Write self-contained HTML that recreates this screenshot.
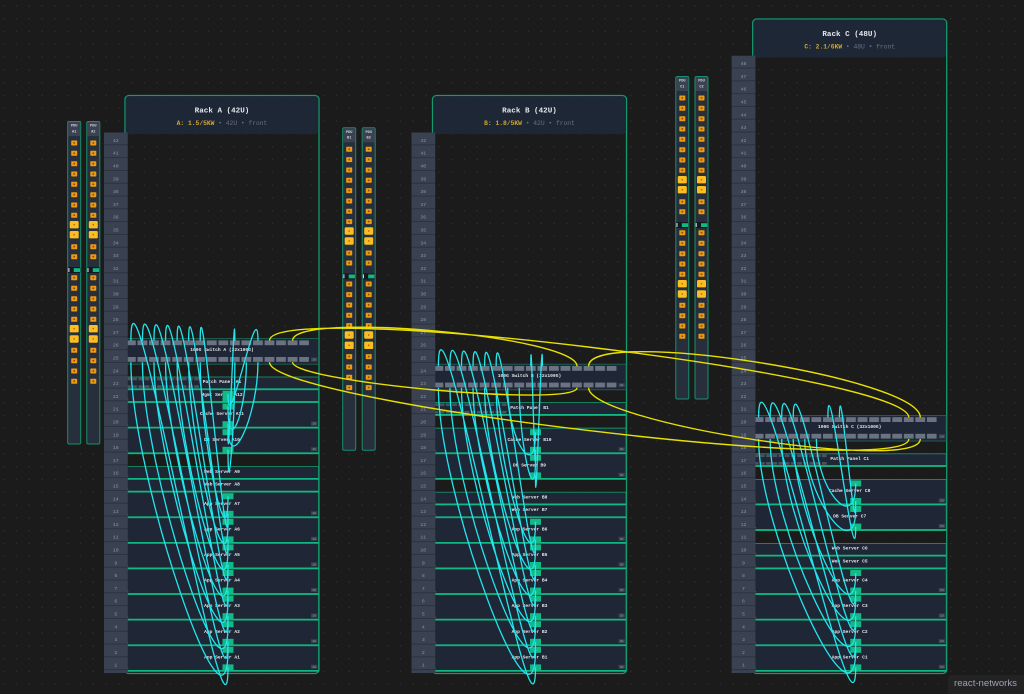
<!DOCTYPE html>
<html><head><meta charset="utf-8"><style>
html,body{margin:0;padding:0;background:#1b1b1b;overflow:hidden;}
svg{display:block;}
</style></head><body>
<svg width="1024" height="694" viewBox="0 0 1024 694" xmlns="http://www.w3.org/2000/svg" style="font-family:'Liberation Mono',monospace">
<defs>
<pattern id="dots" x="2.9" y="5.2" width="12.8" height="12.8" patternUnits="userSpaceOnUse"><rect width="1.3" height="1.3" fill="#303030"/></pattern>
<pattern id="ucell" x="104" y="132.5" width="24" height="12.8" patternUnits="userSpaceOnUse"><rect width="24" height="11.9" fill="#3a4252"/></pattern>
<pattern id="sp" x="126" y="0" width="11.55" height="700" patternUnits="userSpaceOnUse"><rect width="9.8" height="700" fill="#6b7383"/></pattern>
<pattern id="pp" x="126" y="0" width="6.2" height="700" patternUnits="userSpaceOnUse"><rect width="4.8" height="700" fill="#4a5262"/></pattern>
<g id="os"><rect x="4" y="-2.5" width="6" height="5" rx="0.7" fill="#eb9a12"/><rect x="6.2" y="-0.8" width="1.6" height="1.5" fill="#7c4a05"/></g>
<g id="ob"><rect x="2.5" y="-3.7" width="9" height="7.4" rx="1.3" fill="#fbbd22"/><rect x="6.3" y="-0.7" width="1.4" height="1.4" fill="#a86f00"/></g>
<g id="pdu">
<rect x="0.5" y="0.5" width="13" height="322.5" rx="1.5" fill="#272f3c" stroke="#15906a" stroke-width="1"/>
<rect x="1" y="1" width="12" height="14" fill="#3b4353"/>
<use href="#os" y="22"/><use href="#os" y="32.3"/><use href="#os" y="42.7"/><use href="#os" y="53"/><use href="#os" y="63.3"/><use href="#os" y="73.7"/><use href="#os" y="84"/><use href="#os" y="94.3"/>
<use href="#ob" y="103.7"/><use href="#ob" y="113.7"/>
<use href="#os" y="125.7"/><use href="#os" y="135.7"/>
<rect x="1" y="146" width="12" height="6" fill="#15191f"/><rect x="1.2" y="147" width="1" height="4" fill="#e5e7eb"/><rect x="6.5" y="147.2" width="6.3" height="3.8" fill="#10b981"/>
<use href="#os" y="156.7"/><use href="#os" y="167.3"/><use href="#os" y="177.7"/><use href="#os" y="188"/><use href="#os" y="198.3"/>
<use href="#ob" y="207.7"/><use href="#ob" y="218"/>
<use href="#os" y="229.3"/><use href="#os" y="239.7"/><use href="#os" y="250"/><use href="#os" y="260.3"/>
</g>
</defs>

<rect width="1024" height="694" fill="#1b1b1b"/>
<rect width="1024" height="694" fill="url(#dots)"/>

<!-- PDUs -->
<use href="#pdu" x="67.2" y="121"/><use href="#pdu" x="86.3" y="121"/>
<use href="#pdu" x="342.2" y="127.3"/><use href="#pdu" x="361.7" y="127.3"/>
<use href="#pdu" x="675.3" y="76"/><use href="#pdu" x="694.5" y="76"/>
<g font-size="3.6" fill="#d1d5db" text-anchor="middle" font-weight="bold">
<text x="74.2" y="126.6">PDU</text><text x="74.2" y="132.4">A1</text>
<text x="93.3" y="126.6">PDU</text><text x="93.3" y="132.4">A2</text>
<text x="349.2" y="132.9">PDU</text><text x="349.2" y="138.7">B1</text>
<text x="368.7" y="132.9">PDU</text><text x="368.7" y="138.7">B2</text>
<text x="682.3" y="81.6">PDU</text><text x="682.3" y="87.4">C1</text>
<text x="701.5" y="81.6">PDU</text><text x="701.5" y="87.4">C2</text>
</g>

<!-- ================= RACK A ================= -->
<g>
<rect x="125" y="95.5" width="194" height="578" rx="4" fill="none" stroke="#139a6c" stroke-width="1.3"/>
<rect x="125.7" y="96.2" width="192.6" height="37.8" rx="3" fill="#1e2736"/>
<text x="222" y="112.7" font-size="7.6" font-weight="bold" fill="#e5e7eb" text-anchor="middle">Rack A (42U)</text>
<text x="222" y="125.2" font-size="6.3" text-anchor="middle"><tspan fill="#d4a72c" font-weight="bold">A: 1.5/5KW</tspan><tspan fill="#6b7280"> • 42U • front</tspan></text>

<rect x="125.5" y="338.6" width="193" height="25.6" fill="#1f2737" stroke="#1e6a55" stroke-width="0.8"/>
<rect x="126" y="340.4" width="183" height="4.8" fill="url(#sp)"/>
<rect x="126" y="357" width="183" height="4.8" fill="url(#sp)"/>
<rect x="125.5" y="377" width="193" height="12.8" fill="#1f2737" stroke="#139a6c" stroke-width="0.8"/>
<rect x="126" y="377.7" width="74" height="2.6" fill="url(#pp)"/>
<rect x="126" y="385.3" width="74" height="2.6" fill="url(#pp)"/>
<g fill="#1f2737" stroke="#139a6c" stroke-width="0.8">
<rect x="125.5" y="389.8" width="193" height="12.8"/>
<rect x="125.5" y="402.6" width="193" height="25.6"/>
<rect x="125.5" y="428.2" width="193" height="25.6"/>
<rect x="125.5" y="466.6" width="193" height="12.8"/>
<rect x="125.5" y="479.4" width="193" height="12.8"/>
<rect x="125.5" y="492.2" width="193" height="25.6"/>
<rect x="125.5" y="517.8" width="193" height="25.6"/>
<rect x="125.5" y="543.4" width="193" height="25.6"/>
<rect x="125.5" y="569" width="193" height="25.6"/>
<rect x="125.5" y="594.6" width="193" height="25.6"/>
<rect x="125.5" y="620.2" width="193" height="25.6"/>
<rect x="125.5" y="645.8" width="193" height="25.6"/>
</g>
<path d="M125.5,389.1H318.5M125.5,401.9H318.5M125.5,427.5H318.5M125.5,453.1H318.5M125.5,478.7H318.5M125.5,491.5H318.5M125.5,517.1H318.5M125.5,542.7H318.5M125.5,568.3H318.5M125.5,593.9H318.5M125.5,619.5H318.5M125.5,645.1H318.5M125.5,670.7H318.5" stroke="#10b981" stroke-width="1.5" fill="none"/>
<g fill="#10b981">
<circle cx="127.4" cy="399.6" r="0.8"/><circle cx="127.4" cy="425.2" r="0.8"/><circle cx="127.4" cy="450.8" r="0.8"/><circle cx="127.4" cy="476.4" r="0.8"/><circle cx="127.4" cy="489.2" r="0.8"/><circle cx="127.4" cy="514.8" r="0.8"/><circle cx="127.4" cy="540.4" r="0.8"/><circle cx="127.4" cy="566" r="0.8"/><circle cx="127.4" cy="591.6" r="0.8"/><circle cx="127.4" cy="617.2" r="0.8"/><circle cx="127.4" cy="642.8" r="0.8"/><circle cx="127.4" cy="668.4" r="0.8"/>
</g>
<g fill="#3b4352">
<rect x="311" y="357.6" width="6.3" height="3.9"/><rect x="311" y="421.6" width="6.3" height="3.9"/><rect x="311" y="447.2" width="6.3" height="3.9"/><rect x="311" y="511.2" width="6.3" height="3.9"/><rect x="311" y="536.8" width="6.3" height="3.9"/><rect x="311" y="562.4" width="6.3" height="3.9"/><rect x="311" y="588" width="6.3" height="3.9"/><rect x="311" y="613.6" width="6.3" height="3.9"/><rect x="311" y="639.2" width="6.3" height="3.9"/><rect x="311" y="664.8" width="6.3" height="3.9"/>
</g>
<g font-size="2.8" fill="#9aa3b1" text-anchor="middle">
<text x="314.15" y="360.6">2U</text><text x="314.15" y="424.6">2U</text><text x="314.15" y="450.2">2U</text><text x="314.15" y="514.2">2U</text><text x="314.15" y="539.8">2U</text><text x="314.15" y="565.4">2U</text><text x="314.15" y="591">2U</text><text x="314.15" y="616.6">2U</text><text x="314.15" y="642.2">2U</text><text x="314.15" y="667.8">2U</text>
</g>
<g font-size="4.6" font-weight="bold" fill="#e5e7eb" text-anchor="middle">
<text x="222" y="351.2">100G Switch A (32x100G)</text>
<text x="222" y="383.2">Patch Panel A1</text>
<text x="222" y="396">Mgmt Server A12</text>
<text x="222" y="415.2">Cache Server A11</text>
<text x="222" y="440.8">DB Server A10</text>
<text x="222" y="472.8">Web Server A9</text>
<text x="222" y="485.6">Web Server A8</text>
<text x="222" y="504.8">App Server A7</text>
<text x="222" y="530.4">App Server A6</text>
<text x="222" y="556">App Server A5</text>
<text x="222" y="581.6">App Server A4</text>
<text x="222" y="607.2">App Server A3</text>
<text x="222" y="632.8">App Server A2</text>
<text x="222" y="658.4">App Server A1</text>
</g>
<rect x="104" y="132.5" width="23.7" height="540.5" fill="#2a303b"/>
<rect x="104" y="132.5" width="23.7" height="540.5" fill="url(#ucell)"/>
<text x="115.8" y="141.9" font-size="4.8" fill="#8e97a6" text-anchor="middle"><tspan x="115.8">42</tspan><tspan x="115.8" dy="12.8">41</tspan><tspan x="115.8" dy="12.8">40</tspan><tspan x="115.8" dy="12.8">39</tspan><tspan x="115.8" dy="12.8">38</tspan><tspan x="115.8" dy="12.8">37</tspan><tspan x="115.8" dy="12.8">36</tspan><tspan x="115.8" dy="12.8">35</tspan><tspan x="115.8" dy="12.8">34</tspan><tspan x="115.8" dy="12.8">33</tspan><tspan x="115.8" dy="12.8">32</tspan><tspan x="115.8" dy="12.8">31</tspan><tspan x="115.8" dy="12.8">30</tspan><tspan x="115.8" dy="12.8">29</tspan><tspan x="115.8" dy="12.8">28</tspan><tspan x="115.8" dy="12.8">27</tspan><tspan x="115.8" dy="12.8">26</tspan><tspan x="115.8" dy="12.8">25</tspan><tspan x="115.8" dy="12.8">24</tspan><tspan x="115.8" dy="12.8">23</tspan><tspan x="115.8" dy="12.8">22</tspan><tspan x="115.8" dy="12.8">21</tspan><tspan x="115.8" dy="12.8">20</tspan><tspan x="115.8" dy="12.8">19</tspan><tspan x="115.8" dy="12.8">18</tspan><tspan x="115.8" dy="12.8">17</tspan><tspan x="115.8" dy="12.8">16</tspan><tspan x="115.8" dy="12.8">15</tspan><tspan x="115.8" dy="12.8">14</tspan><tspan x="115.8" dy="12.8">13</tspan><tspan x="115.8" dy="12.8">12</tspan><tspan x="115.8" dy="12.8">11</tspan><tspan x="115.8" dy="12.8">10</tspan><tspan x="115.8" dy="12.8">9</tspan><tspan x="115.8" dy="12.8">8</tspan><tspan x="115.8" dy="12.8">7</tspan><tspan x="115.8" dy="12.8">6</tspan><tspan x="115.8" dy="12.8">5</tspan><tspan x="115.8" dy="12.8">4</tspan><tspan x="115.8" dy="12.8">3</tspan><tspan x="115.8" dy="12.8">2</tspan><tspan x="115.8" dy="12.8">1</tspan></text>
<g fill="#12b886">
<rect x="222.5" y="646.8" width="11" height="6"/><rect x="222.5" y="664.4" width="11" height="6"/>
<rect x="222.5" y="621.2" width="11" height="6"/><rect x="222.5" y="638.8" width="11" height="6"/>
<rect x="222.5" y="595.6" width="11" height="6"/><rect x="222.5" y="613.2" width="11" height="6"/>
<rect x="222.5" y="570" width="11" height="6"/><rect x="222.5" y="587.6" width="11" height="6"/>
<rect x="222.5" y="544.4" width="11" height="6"/><rect x="222.5" y="562" width="11" height="6"/>
<rect x="222.5" y="518.8" width="11" height="6"/><rect x="222.5" y="536.4" width="11" height="6"/>
<rect x="222.5" y="493.2" width="11" height="6"/><rect x="222.5" y="510.8" width="11" height="6"/>
<rect x="222.5" y="429.2" width="11" height="6"/><rect x="222.5" y="446.8" width="11" height="6"/>
<rect x="222.5" y="403.6" width="11" height="6"/><rect x="222.5" y="421.2" width="11" height="6"/>
<rect x="222.5" y="390.8" width="11" height="10.8"/>
</g>
<path fill="none" stroke="#22e6ee" stroke-width="1.3" d="
M130.9,340.6 C130.9,218.9 228,789.1 228,667.4
M142.45,340.6 C142.45,225.3 228,757.1 228,641.8
M154,340.6 C154,231.7 228,725.1 228,616.2
M165.55,340.6 C165.55,238.1 228,693.1 228,590.6
M177.1,340.6 C177.1,244.5 228,661.1 228,565
M188.65,340.6 C188.65,250.9 228,629.1 228,539.4
M200.2,340.6 C200.2,257.3 228,597.1 228,513.8
M234.85,340.6 C234.85,277.7 228,495.1 228,432.2
M257.95,340.6 C257.95,287.3 228,447.1 228,393.8
M130.9,362.2 C130.9,474.1 228,761.7 228,649.8
M142.45,362.2 C142.45,467.7 228,729.7 228,624.2
M154,362.2 C154,461.3 228,697.7 228,598.6
M165.55,362.2 C165.55,454.9 228,665.7 228,573
M177.1,362.2 C177.1,448.5 228,633.7 228,547.4
M188.65,362.2 C188.65,442.1 228,601.7 228,521.8
M200.2,362.2 C200.2,435.7 228,569.7 228,496.2
M234.85,362.2 C234.85,424.1 228,511.7 228,449.8
M246.4,362.2 C246.4,413.3 228,457.7 228,406.6
M257.95,362.2 C257.95,417.7 228,479.7 228,424.2"/>
</g>

<!-- ================= RACK B ================= -->
<g transform="translate(307.5,0)">
<rect x="125" y="95.5" width="194" height="578" rx="4" fill="none" stroke="#139a6c" stroke-width="1.3"/>
<rect x="125.7" y="96.2" width="192.6" height="37.8" rx="3" fill="#1e2736"/>
<text x="222" y="112.7" font-size="7.6" font-weight="bold" fill="#e5e7eb" text-anchor="middle">Rack B (42U)</text>
<text x="222" y="125.2" font-size="6.3" text-anchor="middle"><tspan fill="#d4a72c" font-weight="bold">B: 1.8/5KW</tspan><tspan fill="#6b7280"> • 42U • front</tspan></text>

<rect x="125.5" y="364.2" width="193" height="25.6" fill="#1f2737" stroke="#1e6a55" stroke-width="0.8"/>
<rect x="126" y="366" width="183" height="4.8" fill="url(#sp)"/>
<rect x="126" y="382.6" width="183" height="4.8" fill="url(#sp)"/>
<rect x="125.5" y="402.6" width="193" height="12.8" fill="#1f2737" stroke="#139a6c" stroke-width="0.8"/>
<rect x="126" y="403.3" width="74" height="2.6" fill="url(#pp)"/>
<rect x="126" y="410.9" width="74" height="2.6" fill="url(#pp)"/>
<rect x="125.5" y="415.4" width="193" height="12.8" fill="none" stroke="#139a6c" stroke-width="0.8"/>
<g fill="#1f2737" stroke="#139a6c" stroke-width="0.8">
<rect x="125.5" y="428.2" width="193" height="25.6"/>
<rect x="125.5" y="453.8" width="193" height="25.6"/>
<rect x="125.5" y="492.2" width="193" height="12.8"/>
<rect x="125.5" y="505" width="193" height="12.8"/>
<rect x="125.5" y="517.8" width="193" height="25.6"/>
<rect x="125.5" y="543.4" width="193" height="25.6"/>
<rect x="125.5" y="569" width="193" height="25.6"/>
<rect x="125.5" y="594.6" width="193" height="25.6"/>
<rect x="125.5" y="620.2" width="193" height="25.6"/>
<rect x="125.5" y="645.8" width="193" height="25.6"/>
</g>
<path d="M125.5,414.7H318.5M125.5,453.1H318.5M125.5,478.7H318.5M125.5,504.3H318.5M125.5,517.1H318.5M125.5,542.7H318.5M125.5,568.3H318.5M125.5,593.9H318.5M125.5,619.5H318.5M125.5,645.1H318.5M125.5,670.7H318.5" stroke="#10b981" stroke-width="1.5" fill="none"/>
<g fill="#10b981">
<circle cx="127.4" cy="450.8" r="0.8"/><circle cx="127.4" cy="476.4" r="0.8"/><circle cx="127.4" cy="502" r="0.8"/><circle cx="127.4" cy="514.8" r="0.8"/><circle cx="127.4" cy="540.4" r="0.8"/><circle cx="127.4" cy="566" r="0.8"/><circle cx="127.4" cy="591.6" r="0.8"/><circle cx="127.4" cy="617.2" r="0.8"/><circle cx="127.4" cy="642.8" r="0.8"/><circle cx="127.4" cy="668.4" r="0.8"/>
</g>
<g fill="#3b4352">
<rect x="311" y="383.2" width="6.3" height="3.9"/><rect x="311" y="447.2" width="6.3" height="3.9"/><rect x="311" y="472.8" width="6.3" height="3.9"/><rect x="311" y="536.8" width="6.3" height="3.9"/><rect x="311" y="562.4" width="6.3" height="3.9"/><rect x="311" y="588" width="6.3" height="3.9"/><rect x="311" y="613.6" width="6.3" height="3.9"/><rect x="311" y="639.2" width="6.3" height="3.9"/><rect x="311" y="664.8" width="6.3" height="3.9"/>
</g>
<g font-size="2.8" fill="#9aa3b1" text-anchor="middle">
<text x="314.15" y="386.2">2U</text><text x="314.15" y="450.2">2U</text><text x="314.15" y="475.8">2U</text><text x="314.15" y="539.8">2U</text><text x="314.15" y="565.4">2U</text><text x="314.15" y="591">2U</text><text x="314.15" y="616.6">2U</text><text x="314.15" y="642.2">2U</text><text x="314.15" y="667.8">2U</text>
</g>
<g font-size="4.6" font-weight="bold" fill="#e5e7eb" text-anchor="middle">
<text x="222" y="376.8">100G Switch B (32x100G)</text>
<text x="222" y="408.8">Patch Panel B1</text>
<text x="222" y="440.8">Cache Server B10</text>
<text x="222" y="466.4">DB Server B9</text>
<text x="222" y="498.4">Web Server B8</text>
<text x="222" y="511.2">Web Server B7</text>
<text x="222" y="530.4">App Server B6</text>
<text x="222" y="556">App Server B5</text>
<text x="222" y="581.6">App Server B4</text>
<text x="222" y="607.2">App Server B3</text>
<text x="222" y="632.8">App Server B2</text>
<text x="222" y="658.4">App Server B1</text>
</g>
<rect x="104" y="132.5" width="23.7" height="540.5" fill="#2a303b"/>
<rect x="104" y="132.5" width="23.7" height="540.5" fill="url(#ucell)"/>
<text x="115.8" y="141.9" font-size="4.8" fill="#8e97a6" text-anchor="middle"><tspan x="115.8">42</tspan><tspan x="115.8" dy="12.8">41</tspan><tspan x="115.8" dy="12.8">40</tspan><tspan x="115.8" dy="12.8">39</tspan><tspan x="115.8" dy="12.8">38</tspan><tspan x="115.8" dy="12.8">37</tspan><tspan x="115.8" dy="12.8">36</tspan><tspan x="115.8" dy="12.8">35</tspan><tspan x="115.8" dy="12.8">34</tspan><tspan x="115.8" dy="12.8">33</tspan><tspan x="115.8" dy="12.8">32</tspan><tspan x="115.8" dy="12.8">31</tspan><tspan x="115.8" dy="12.8">30</tspan><tspan x="115.8" dy="12.8">29</tspan><tspan x="115.8" dy="12.8">28</tspan><tspan x="115.8" dy="12.8">27</tspan><tspan x="115.8" dy="12.8">26</tspan><tspan x="115.8" dy="12.8">25</tspan><tspan x="115.8" dy="12.8">24</tspan><tspan x="115.8" dy="12.8">23</tspan><tspan x="115.8" dy="12.8">22</tspan><tspan x="115.8" dy="12.8">21</tspan><tspan x="115.8" dy="12.8">20</tspan><tspan x="115.8" dy="12.8">19</tspan><tspan x="115.8" dy="12.8">18</tspan><tspan x="115.8" dy="12.8">17</tspan><tspan x="115.8" dy="12.8">16</tspan><tspan x="115.8" dy="12.8">15</tspan><tspan x="115.8" dy="12.8">14</tspan><tspan x="115.8" dy="12.8">13</tspan><tspan x="115.8" dy="12.8">12</tspan><tspan x="115.8" dy="12.8">11</tspan><tspan x="115.8" dy="12.8">10</tspan><tspan x="115.8" dy="12.8">9</tspan><tspan x="115.8" dy="12.8">8</tspan><tspan x="115.8" dy="12.8">7</tspan><tspan x="115.8" dy="12.8">6</tspan><tspan x="115.8" dy="12.8">5</tspan><tspan x="115.8" dy="12.8">4</tspan><tspan x="115.8" dy="12.8">3</tspan><tspan x="115.8" dy="12.8">2</tspan><tspan x="115.8" dy="12.8">1</tspan></text>
<g fill="#12b886">
<rect x="222.5" y="646.8" width="11" height="6"/><rect x="222.5" y="664.4" width="11" height="6"/>
<rect x="222.5" y="621.2" width="11" height="6"/><rect x="222.5" y="638.8" width="11" height="6"/>
<rect x="222.5" y="595.6" width="11" height="6"/><rect x="222.5" y="613.2" width="11" height="6"/>
<rect x="222.5" y="570" width="11" height="6"/><rect x="222.5" y="587.6" width="11" height="6"/>
<rect x="222.5" y="544.4" width="11" height="6"/><rect x="222.5" y="562" width="11" height="6"/>
<rect x="222.5" y="518.8" width="11" height="6"/><rect x="222.5" y="536.4" width="11" height="6"/>
<rect x="222.5" y="454.8" width="11" height="6"/><rect x="222.5" y="472.4" width="11" height="6"/>
<rect x="222.5" y="429.2" width="11" height="6"/><rect x="222.5" y="446.8" width="11" height="6"/>
</g>
<path fill="none" stroke="#22e6ee" stroke-width="1.3" d="
M130.9,366.2 C130.9,250.9 228,782.7 228,667.4
M142.45,366.2 C142.45,257.3 228,750.7 228,641.8
M154,366.2 C154,263.7 228,718.7 228,616.2
M165.55,366.2 C165.55,270.1 228,686.7 228,590.6
M177.1,366.2 C177.1,276.5 228,654.7 228,565
M188.65,366.2 C188.65,282.9 228,622.7 228,539.4
M223.3,366.2 C223.3,305.3 228,510.7 228,449.8
M234.85,366.2 C234.85,298.9 228,542.7 228,475.4
M130.9,387.8 C130.9,493.3 228,755.3 228,649.8
M142.45,387.8 C142.45,486.9 228,723.3 228,624.2
M154,387.8 C154,480.5 228,691.3 228,598.6
M165.55,387.8 C165.55,474.1 228,659.3 228,573
M177.1,387.8 C177.1,467.7 228,627.3 228,547.4
M188.65,387.8 C188.65,461.3 228,595.3 228,521.8
M200.2,387.8 C200.2,438.9 228,483.3 228,432.2
M211.75,387.8 C211.75,445.3 228,515.3 228,457.8"/>
</g>

<!-- ================= RACK C ================= -->
<g transform="translate(627.7,0)">
<rect x="125" y="19" width="194" height="654.5" rx="4" fill="none" stroke="#139a6c" stroke-width="1.3"/>
<rect x="125.7" y="19.7" width="192.6" height="37.8" rx="3" fill="#1e2736"/>
<text x="222" y="36.1" font-size="7.6" font-weight="bold" fill="#e5e7eb" text-anchor="middle">Rack C (48U)</text>
<text x="222" y="48.4" font-size="6.3" text-anchor="middle"><tspan fill="#d4a72c" font-weight="bold">C: 2.1/6KW</tspan><tspan fill="#6b7280"> • 48U • front</tspan></text>

<rect x="125.5" y="415.4" width="193" height="25.6" fill="#1f2737" stroke="#1e6a55" stroke-width="0.8"/>
<rect x="126" y="417.2" width="183" height="4.8" fill="url(#sp)"/>
<rect x="126" y="433.8" width="183" height="4.8" fill="url(#sp)"/>
<rect x="125.5" y="453.8" width="193" height="12.8" fill="#1f2737" stroke="#139a6c" stroke-width="0.8"/>
<rect x="126" y="454.5" width="74" height="2.6" fill="url(#pp)"/>
<rect x="126" y="462.1" width="74" height="2.6" fill="url(#pp)"/>
<g fill="#1f2737" stroke="#139a6c" stroke-width="0.8">
<rect x="125.5" y="479.4" width="193" height="25.6"/>
<rect x="125.5" y="505" width="193" height="25.6"/>
<rect x="125.5" y="543.4" width="193" height="12.8"/>
<rect x="125.5" y="556.2" width="193" height="12.8"/>
<rect x="125.5" y="569" width="193" height="25.6"/>
<rect x="125.5" y="594.6" width="193" height="25.6"/>
<rect x="125.5" y="620.2" width="193" height="25.6"/>
<rect x="125.5" y="645.8" width="193" height="25.6"/>
</g>
<path d="M125.5,465.9H318.5M125.5,504.3H318.5M125.5,529.9H318.5M125.5,555.5H318.5M125.5,568.3H318.5M125.5,593.9H318.5M125.5,619.5H318.5M125.5,645.1H318.5M125.5,670.7H318.5" stroke="#10b981" stroke-width="1.5" fill="none"/>
<g fill="#10b981">
<circle cx="127.4" cy="502" r="0.8"/><circle cx="127.4" cy="527.6" r="0.8"/><circle cx="127.4" cy="553.2" r="0.8"/><circle cx="127.4" cy="566" r="0.8"/><circle cx="127.4" cy="591.6" r="0.8"/><circle cx="127.4" cy="617.2" r="0.8"/><circle cx="127.4" cy="642.8" r="0.8"/><circle cx="127.4" cy="668.4" r="0.8"/>
</g>
<g fill="#3b4352">
<rect x="311" y="434.4" width="6.3" height="3.9"/><rect x="311" y="498.4" width="6.3" height="3.9"/><rect x="311" y="524" width="6.3" height="3.9"/><rect x="311" y="588" width="6.3" height="3.9"/><rect x="311" y="613.6" width="6.3" height="3.9"/><rect x="311" y="639.2" width="6.3" height="3.9"/><rect x="311" y="664.8" width="6.3" height="3.9"/>
</g>
<g font-size="2.8" fill="#9aa3b1" text-anchor="middle">
<text x="314.15" y="437.4">2U</text><text x="314.15" y="501.4">2U</text><text x="314.15" y="527">2U</text><text x="314.15" y="591">2U</text><text x="314.15" y="616.6">2U</text><text x="314.15" y="642.2">2U</text><text x="314.15" y="667.8">2U</text>
</g>
<g font-size="4.6" font-weight="bold" fill="#e5e7eb" text-anchor="middle">
<text x="222" y="428">100G Switch C (32x100G)</text>
<text x="222" y="460">Patch Panel C1</text>
<text x="222" y="492">Cache Server C8</text>
<text x="222" y="517.6">DB Server C7</text>
<text x="222" y="549.6">Web Server C6</text>
<text x="222" y="562.4">Web Server C5</text>
<text x="222" y="581.6">App Server C4</text>
<text x="222" y="607.2">App Server C3</text>
<text x="222" y="632.8">App Server C2</text>
<text x="222" y="658.4">App Server C1</text>
</g>
<rect x="104" y="55.7" width="23.7" height="617.3" fill="#2a303b"/>
<rect x="104" y="55.7" width="23.7" height="617.3" fill="url(#ucell)"/>
<text x="115.8" y="65.1" font-size="4.8" fill="#8e97a6" text-anchor="middle"><tspan x="115.8">48</tspan><tspan x="115.8" dy="12.8">47</tspan><tspan x="115.8" dy="12.8">46</tspan><tspan x="115.8" dy="12.8">45</tspan><tspan x="115.8" dy="12.8">44</tspan><tspan x="115.8" dy="12.8">43</tspan><tspan x="115.8" dy="12.8">42</tspan><tspan x="115.8" dy="12.8">41</tspan><tspan x="115.8" dy="12.8">40</tspan><tspan x="115.8" dy="12.8">39</tspan><tspan x="115.8" dy="12.8">38</tspan><tspan x="115.8" dy="12.8">37</tspan><tspan x="115.8" dy="12.8">36</tspan><tspan x="115.8" dy="12.8">35</tspan><tspan x="115.8" dy="12.8">34</tspan><tspan x="115.8" dy="12.8">33</tspan><tspan x="115.8" dy="12.8">32</tspan><tspan x="115.8" dy="12.8">31</tspan><tspan x="115.8" dy="12.8">30</tspan><tspan x="115.8" dy="12.8">29</tspan><tspan x="115.8" dy="12.8">28</tspan><tspan x="115.8" dy="12.8">27</tspan><tspan x="115.8" dy="12.8">26</tspan><tspan x="115.8" dy="12.8">25</tspan><tspan x="115.8" dy="12.8">24</tspan><tspan x="115.8" dy="12.8">23</tspan><tspan x="115.8" dy="12.8">22</tspan><tspan x="115.8" dy="12.8">21</tspan><tspan x="115.8" dy="12.8">20</tspan><tspan x="115.8" dy="12.8">19</tspan><tspan x="115.8" dy="12.8">18</tspan><tspan x="115.8" dy="12.8">17</tspan><tspan x="115.8" dy="12.8">16</tspan><tspan x="115.8" dy="12.8">15</tspan><tspan x="115.8" dy="12.8">14</tspan><tspan x="115.8" dy="12.8">13</tspan><tspan x="115.8" dy="12.8">12</tspan><tspan x="115.8" dy="12.8">11</tspan><tspan x="115.8" dy="12.8">10</tspan><tspan x="115.8" dy="12.8">9</tspan><tspan x="115.8" dy="12.8">8</tspan><tspan x="115.8" dy="12.8">7</tspan><tspan x="115.8" dy="12.8">6</tspan><tspan x="115.8" dy="12.8">5</tspan><tspan x="115.8" dy="12.8">4</tspan><tspan x="115.8" dy="12.8">3</tspan><tspan x="115.8" dy="12.8">2</tspan><tspan x="115.8" dy="12.8">1</tspan></text>
<g fill="#12b886">
<rect x="222.5" y="646.8" width="11" height="6"/><rect x="222.5" y="664.4" width="11" height="6"/>
<rect x="222.5" y="621.2" width="11" height="6"/><rect x="222.5" y="638.8" width="11" height="6"/>
<rect x="222.5" y="595.6" width="11" height="6"/><rect x="222.5" y="613.2" width="11" height="6"/>
<rect x="222.5" y="570" width="11" height="6"/><rect x="222.5" y="587.6" width="11" height="6"/>
<rect x="222.5" y="506" width="11" height="6"/><rect x="222.5" y="523.6" width="11" height="6"/>
<rect x="222.5" y="480.4" width="11" height="6"/><rect x="222.5" y="498" width="11" height="6"/>
</g>
<path fill="none" stroke="#22e6ee" stroke-width="1.3" d="
M130.9,417.4 C130.9,314.9 228,769.9 228,667.4
M142.45,417.4 C142.45,321.3 228,737.9 228,641.8
M154,417.4 C154,327.7 228,705.9 228,616.2
M165.55,417.4 C165.55,334.1 228,673.9 228,590.6
M200.2,417.4 C200.2,350.1 228,593.9 228,526.6
M211.75,417.4 C211.75,356.5 228,561.9 228,501
M130.9,439 C130.9,531.7 228,742.5 228,649.8
M142.45,439 C142.45,525.3 228,710.5 228,624.2
M154,439 C154,518.9 228,678.5 228,598.6
M165.55,439 C165.55,512.5 228,646.5 228,573
M177.1,439 C177.1,496.5 228,566.5 228,509
M188.65,439 C188.65,490.1 228,534.5 228,483.4"/>
</g>

<!-- inter-switch links -->
<path fill="none" stroke="#e8e000" stroke-width="1.4" d="
M269.5,340.6 C269.5,298 908.8,375 908.8,417.4
M292.6,340.6 C292.6,310.6 577,336.2 577,366.2
M588.6,366.2 C588.6,326.2 920.3,377.4 920.3,417.4
M269.5,362.2 C269.5,402.2 908.8,479 908.8,439
M292.6,362.2 C292.6,382.2 577,407.8 577,387.8
M588.6,387.8 C588.6,422.8 920.3,474 920.3,439"/>

<!-- watermark -->
<rect x="948" y="675" width="80" height="24" rx="4" fill="#232323"/>
<text x="985.5" y="685.8" style="font-family:'Liberation Sans',Arial,sans-serif" font-size="9.6" fill="#9ca3af" text-anchor="middle">react-networks</text>
</svg>
</body></html>
